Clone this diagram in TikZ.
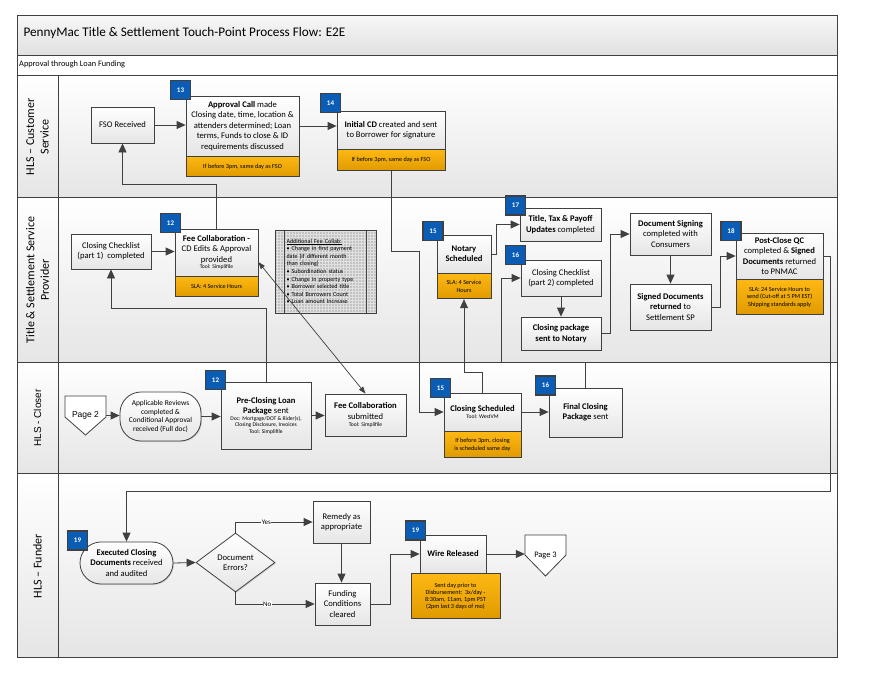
\documentclass[tikz,border=0pt]{standalone}
\usepackage{fontspec}
\setmainfont{Carlito}
\newfontfamily\arialfont{Liberation Sans}
\usetikzlibrary{arrows.meta,calc,shapes.geometric,shadows}
\definecolor{linegray}{HTML}{404040}
\definecolor{badgeblue}{HTML}{0B5CB5}
\definecolor{slatop}{HTML}{FDB813}
\definecolor{slabot}{HTML}{E09A00}
\newcommand\boxfont{\fontsize{8.6}{10.4}\selectfont}
\newcommand\toolfont{\fontsize{5.6}{6.6}\selectfont}
\newcommand\slafont{\fontsize{6.2}{7.3}\selectfont}
\newcommand\lanefont{\fontsize{12}{14.5}\selectfont}

\tikzset{
	box/.style={draw=linegray, line width=0.8pt, top color=white, bottom color=black!10, align=center, inner sep=1pt, font=\boxfont, drop shadow={shadow xshift=1pt, shadow yshift=-1pt, fill=black!30}},
	sla/.style={draw=linegray, line width=0.8pt, top color=slatop, bottom color=slabot, align=center, inner sep=1pt, font=\slafont, anchor=north},
	badge/.style={draw=black!75, line width=1.3pt, fill=badgeblue, text=white, font=\fontsize{7}{8}\selectfont\bfseries, minimum width=20, minimum height=19, inner sep=0pt},
	lane/.style={draw=linegray, line width=0.8pt, top color=white, bottom color=black!10},
	arr/.style={draw=linegray, line width=0.8pt, -{Triangle[length=9pt,width=8pt]}},
	dblarr/.style={draw=linegray, line width=0.7pt, {Triangle[length=7pt,width=5pt]}-{Triangle[length=7pt,width=5pt]}},
	page/.style={draw=linegray, line width=0.8pt, fill=white},
	yesno/.style={fill=white, inner sep=0.3pt, font=\fontsize{7}{8}\selectfont},
}

\begin{document}
\begin{tikzpicture}[x=1pt, y=-1pt]
	\useasboundingbox (0,0) rectangle (880,680);

	\draw[draw=linegray, line width=0.8pt, top color=black!3, bottom color=black!12] (17,15) rectangle (837,55);
	\draw[draw=linegray, line width=0.8pt, fill=white] (17,55) rectangle (837,75);
	\draw[lane] (17,75) rectangle (837,197);
	\draw[lane] (17,197) rectangle (837,362);
	\draw[lane] (17,362) rectangle (837,473);
	\draw[lane] (17,473) rectangle (837,657);
	\draw[draw=linegray, line width=0.8pt] (58,75) -- (58,657);

	\node[anchor=west, font=\fontsize{13.2}{15}\selectfont] (ttl) at (20,33) {PennyMac Title \& Settlement Touch-Point Process Flow: E2E};
	\node[anchor=west, font=\fontsize{8.3}{9}\selectfont, inner sep=1pt] (sub) at (18,64.5) {Approval through Loan Funding};

	\node[rotate=90, align=center, font=\lanefont] (lcust) at (37.5,137) {HLS -- Customer\\Service};
	\node[rotate=90, align=center, font=\lanefont] (ltitle) at (37.5,280) {Title \& Settlement Service\\Provider};
	\node[rotate=90, align=center, font=\arialfont\fontsize{10}{11}\selectfont] (lcloser) at (37.5,418) {HLS - Closer};
	\node[rotate=90, align=center, font=\lanefont] (lfund) at (37.5,566) {HLS -- Funder};

	% customer service
	\node[box, minimum width=63, minimum height=36] (fso) at (122.5,125) {FSO Received};
	\node[box, minimum width=113, minimum height=60] (appr) at (242.5,126) {\textbf{Approval Call} made\\Closing date, time, location \&\\attenders determined; Loan\\terms, Funds to close \& ID\\requirements discussed};
	\node[sla, minimum width=113, minimum height=20] (apprsla) at (appr.south) {If before 3pm, same day as FSO};
	\node[badge] (b13) at (180.5,90) {13};
	\node[box, minimum width=108, minimum height=38] (icd) at (391,130) {\textbf{Initial CD} created and sent\\to Borrower for signature};
	\node[sla, minimum width=108, minimum height=21] (icdsla) at (icd.south) {If before 3pm, same day as FSO};
	\node[badge] (b14) at (330.5,103) {14};

	% title and settlement
	\node[box, minimum width=80, minimum height=35] (cc1) at (111,251.5) {Closing Checklist\\(part 1)~~completed};
	\node[box, minimum width=83, minimum height=47] (fee) at (216.5,252.5) {\textbf{Fee Collaboration -}\\CD Edits \& Approval\\provided\\[-3.5pt]{\toolfont Tool: Simplifile}};
	\node[sla, minimum width=83, minimum height=20] (feesla) at (fee.south) {SLA: 4 Service Hours};
	\node[badge] (b12a) at (170.5,223) {12};
	\node[draw=linegray, line width=0.8pt, fill=black!24, path picture={\draw[black!12, line width=0.4pt, step=3pt] (path picture bounding box.south west) grid (path picture bounding box.north east);}, minimum width=101, minimum height=83, text width=78, align=left, inner sep=0pt, font=\fontsize{6.1}{7.6}\selectfont] (addl) at (325.5,271.5) {\underline{Additional Fee Collab:}\\\textbullet~Change in first payment\\date (if different month\\than closing)\\\textbullet~Subordination status\\\textbullet~Change in property type\\\textbullet~Borrower selected title\\\textbullet~Total Borrowers Count\\\textbullet~Loan amount Increase};
	\draw[draw=linegray, line width=0.8pt] ($(addl.north west)+(10,0)$) -- ($(addl.south west)+(10,0)$);
	\draw[draw=linegray, line width=0.8pt] ($(addl.north east)+(-10,0)$) -- ($(addl.south east)+(-10,0)$);
	\node[box, minimum width=54, minimum height=38] (notary) at (464,254) {\textbf{Notary}\\\textbf{Scheduled}};
	\node[sla, minimum width=54, minimum height=25] (notarysla) at (notary.south) {SLA: 4 Service\\Hours};
	\node[badge] (b15a) at (433,231) {15};
	\node[box, minimum width=81, minimum height=33] (ttp) at (560.5,224.5) {\textbf{Title, Tax \& Payoff}\\\textbf{Updates} completed};
	\node[badge] (b17) at (515.5,205.5) {17};
	\node[box, minimum width=80, minimum height=36] (cc2) at (561,278) {Closing Checklist\\(part 2) completed};
	\node[badge] (b16a) at (515.5,255) {16};
	\node[box, minimum width=80, minimum height=33] (cpkg) at (561,333.5) {\textbf{Closing package}\\\textbf{sent to Notary}};
	\node[box, minimum width=81, minimum height=42] (dsign) at (670.5,234) {\textbf{Document Signing}\\completed with\\Consumers};
	\node[box, minimum width=81, minimum height=46] (sdocs) at (670.5,307) {\textbf{Signed Documents}\\\textbf{returned} to\\Settlement SP};
	\node[box, minimum width=87, minimum height=46] (pqc) at (779.5,256) {\textbf{Post-Close QC}\\completed \& \textbf{Signed}\\\textbf{Documents} returned\\to PNMAC};
	\node[sla, minimum width=87, minimum height=35] (pqcsla) at (pqc.south) {SLA: 24 Service Hours to\\send (Cut-off at 5 PM EST)\\Shipping standards apply};
	\node[badge] (b18) at (731,231) {18};

	% closer
	\coordinate (pg2c) at (85.5,415.5);
	\filldraw[page] ($(pg2c)+(-20.5,-19.5)$) -- ++(41,0) -- ++(0,21) -- ($(pg2c)+(0,19.5)$) -- ($(pg2c)+(-20.5,1.5)$) -- cycle;
	\node[minimum width=41, minimum height=39, inner sep=0pt, font=\arialfont\fontsize{8.5}{9}\selectfont] (pg2) at (pg2c) {Page 2};
	\node[box, rounded corners=21, minimum width=81, minimum height=49, font=\fontsize{7.4}{8.8}\selectfont] (appl) at (160.5,416.5) {Applicable Reviews\\completed \&\\Conditional Approval\\received (Full doc)};
	\node[box, minimum width=90, minimum height=67] (prec) at (266,415.5) {\textbf{Pre-Closing Loan}\\\textbf{Package} sent\\[-3.5pt]{\toolfont Doc: Mortgage/DOT \& Rider(s),}\\[-4pt]{\toolfont Closing Disclosure, Invoices}\\[-4pt]{\toolfont Tool: Simplifile}};
	\node[badge] (b12b) at (215.5,380) {12};
	\node[box, minimum width=81, minimum height=42] (fees) at (365.5,415) {\textbf{Fee Collaboration}\\submitted\\[-3.5pt]{\toolfont Tool: Simplifile}};
	\node[box, minimum width=77, minimum height=38] (csch) at (482.5,412) {\textbf{Closing Scheduled}\\[-3.5pt]{\toolfont Tool: WestVM}};
	\node[sla, minimum width=77, minimum height=26] (cschsla) at (csch.south) {If before 3pm, closing\\is scheduled same day};
	\node[badge] (b15b) at (440.5,388) {15};
	\node[box, minimum width=73, minimum height=49] (fcp) at (585.5,412.5) {\textbf{Final Closing}\\\textbf{Package} sent};
	\node[badge] (b16b) at (545.5,385.5) {16};

	% funder
	\node[box, rounded corners=21, minimum width=93, minimum height=42] (exec) at (126.5,563) {\textbf{Executed Closing}\\\textbf{Documents} received\\and audited};
	\node[badge] (b19a) at (77.5,540.5) {19};
	\node[box, diamond, aspect=1.34, minimum width=79, minimum height=59, inner sep=0pt] (derr) at (235.5,562.5) {Document\\Errors?};
	\node[box, minimum width=57, minimum height=42] (remedy) at (341.5,522) {Remedy as\\appropriate};
	\node[box, minimum width=55, minimum height=42] (fund) at (342.5,604) {Funding\\Conditions\\cleared};
	\node[box, minimum width=66, minimum height=38] (wire) at (453,554) {\textbf{Wire Released}};
	\node[sla, minimum width=89, minimum height=45, xshift=2.5] (wiresla) at (wire.south) {Sent day prior to\\Disbursement:~~3x/day -\\8:30am, 11am, 1pm PST\\(2pm last 3 days of mo)};
	\node[badge] (b19b) at (415.5,530.5) {19};
	\coordinate (pg3c) at (545.5,555.5);
	\filldraw[page] ($(pg3c)+(-20.5,-20.5)$) -- ++(41,0) -- ++(0,20) -- ($(pg3c)+(0,20.5)$) -- ($(pg3c)+(-20.5,-0.5)$) -- cycle;
	\node[minimum width=41, minimum height=41, inner sep=0pt, font=\fontsize{8.4}{9}\selectfont] (pg3) at (pg3c) {Page 3};

	% connectors
	\draw[arr] (fso.east) -- (fso.east -| appr.west);
	\draw[arr] (appr.east) -- (appr.east -| icd.west);
	\draw[arr] (fee.north) -- ++(0,-44) -| (fso.south);
	\draw[arr] (icdsla.south) -- ++(0,80) -| ($(csch.west)+(-24,0)$) -- (csch.west);
	\draw[arr] (cc1.east) -- (cc1.east -| fee.west);
	\draw[arr] (prec.north) -- ++(0,-73) -| (cc1.south);
	\draw[dblarr] ($(fee.north east)!0.7!(fee.south east)$) -- (fees.north);
	\draw[arr] (notary.east) -- ++(5,0) |- (ttp.west);
	\draw[arr] (csch.north) -- ++(0,-20) -| (notarysla.south);
	\draw[arr] (cc2.south) -- (cpkg.north);
	\draw[arr] (fcp.north) -- ++(0,-25) -| ($(cc2.west)+(-19,0)$) -- (cc2.west);
	\draw[arr] (cpkg.east) -- ++(9,0) |- (dsign.west);
	\draw[arr] (dsign.south) -- (sdocs.north);
	\draw[arr] (sdocs.east) -- ++(9,0) |- (pqc.west);
	\draw[arr] (pqc.east) -- ++(7,0) -- ++(0,235) -| (exec.north);
	\draw[arr] (pg2.east) -- (pg2.east -| appl.west);
	\draw[arr] (appl.east) -- (appl.east -| prec.west);
	\draw[arr] (prec.east) -- (prec.east -| fees.west);
	\draw[arr] (csch.east) -- (csch.east -| fcp.west);
	\draw[arr] (exec.east) -- (derr.west);
	\draw[arr] (derr.north) |- node[yesno, pos=0.7] {Yes} (remedy.west);
	\draw[arr] (derr.south) |- node[yesno, pos=0.7] {No} (fund.west);
	\draw[arr] (remedy.south) -- (remedy.south |- fund.north);
	\draw[arr] (fund.east) -- ++(20,0) |- (wire.west);
	\draw[arr] (wire.east) -- (wire.east -| pg3.west);
\end{tikzpicture}
\end{document}
